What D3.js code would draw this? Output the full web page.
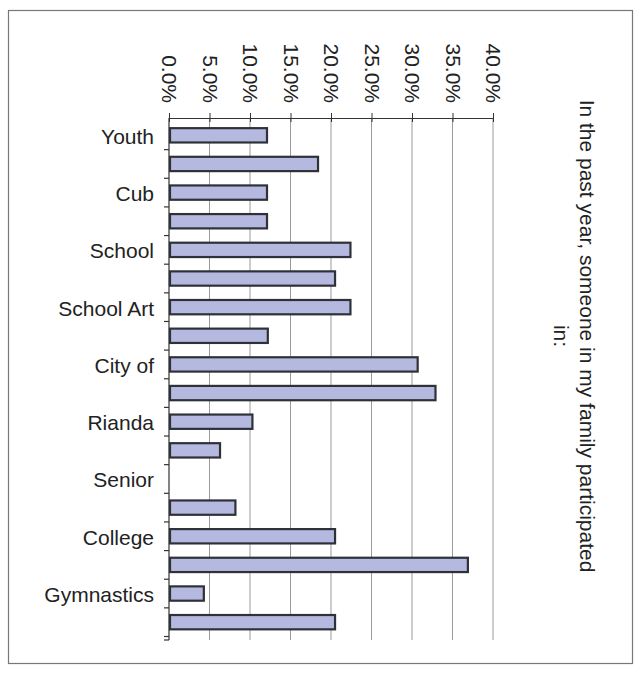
<!DOCTYPE html>
<html>
<head>
<meta charset="utf-8">
<script src="https://cdn.jsdelivr.net/npm/d3@7/dist/d3.min.js"></script>
<style>
  html, body { margin: 0; padding: 0; background: #ffffff; }
  svg { display: block; }
  text { font-family: "Liberation Sans", Arial, sans-serif; fill: #222; }
</style>
</head>
<body>
<svg id="chart" width="637" height="676"></svg>
<script>
// ---- data ----
const categories = ["Youth", "", "Cub", "", "School", "", "School Art", "", "City of", "",
                    "Rianda", "", "Senior", "", "College", "", "Gymnastics", ""];
const values = [12.1, 18.4, 12.1, 12.1, 22.4, 20.5, 22.4, 12.2, 30.7, 32.9,
                10.3, 6.3, 0, 8.2, 20.5, 36.9, 4.3, 20.5];
const tickValues = [0, 5, 10, 15, 20, 25, 30, 35, 40];
const titleLines = ["In the past year, someone in my family participated", "in:"];

// ---- layout ----
const svg = d3.select("#chart");
const pLeft = 169, pTop = 118, pRight = 493, pBottom = 640;
const bandTop = 121, bandBottom = 636.5;

svg.append("rect")
  .attr("x", 8.5).attr("y", 10.5).attr("width", 624).attr("height", 653)
  .attr("fill", "#fff").attr("stroke", "#777").attr("stroke-width", 1.2);

const x = d3.scaleLinear().domain([0, 40]).range([pLeft, pRight]);
const y = d3.scaleBand().domain(d3.range(categories.length)).range([bandTop, bandBottom]).paddingInner(0.5).paddingOuter(0.25);
const yBounds = d3.scaleBand().domain(d3.range(categories.length)).range([bandTop, bandBottom]);

// gridlines
svg.append("g").selectAll("line").data(tickValues.slice(1)).join("line")
  .attr("x1", d => x(d)).attr("x2", d => x(d))
  .attr("y1", pTop).attr("y2", pBottom)
  .attr("stroke", "#9a9a9a").attr("stroke-width", 1);

// top axis
const xAxis = d3.axisTop(x).tickValues(tickValues).tickSize(5).tickSizeOuter(0)
  .tickFormat(d => d3.format(".1f")(d) + "%");
const gx = svg.append("g").attr("transform", `translate(0,${pTop})`).call(xAxis);
gx.select(".domain").attr("stroke", "#333").attr("stroke-width", 1.2);
gx.selectAll(".tick line").attr("stroke", "#333").attr("y2", -5).attr("y1", 4);
gx.selectAll(".tick text")
  .attr("font-size", 21).attr("fill", "#222")
  .attr("text-anchor", "end")
  .attr("transform", "translate(0,-15) rotate(90)")
  .attr("x", 0).attr("y", 0).attr("dy", "0.35em");

// bars
svg.append("g").selectAll("rect").data(values).join("rect")
  .attr("x", x(0) + 1)
  .attr("y", (d, i) => y(i))
  .attr("width", d => Math.max(0, x(d) - x(0) - 1))
  .attr("height", y.bandwidth())
  .attr("fill", d => d > 0 ? "#b5b8df" : "none")
  .attr("stroke", d => d > 0 ? "#2e3238" : "none")
  .attr("stroke-width", 2.2);

// left axis
const gy = svg.append("g").attr("transform", `translate(${pLeft},0)`);
gy.append("line").attr("x1", 0).attr("x2", 0).attr("y1", pTop).attr("y2", pBottom)
  .attr("stroke", "#333").attr("stroke-width", 1.2);
gy.selectAll("line.tk").data(d3.range(1, categories.length + 1)).join("line").attr("class", "tk")
  .attr("x1", -5).attr("x2", 0)
  .attr("y1", i => bandTop + i * yBounds.step()).attr("y2", i => bandTop + i * yBounds.step())
  .attr("stroke", "#333").attr("stroke-width", 1.2);
gy.append("line").attr("x1", -5).attr("x2", 0).attr("y1", pBottom).attr("y2", pBottom)
  .attr("stroke", "#333").attr("stroke-width", 1.2);
gy.selectAll("text").data(categories).join("text")
  .attr("x", -15)
  .attr("y", (d, i) => yBounds(i) + yBounds.bandwidth() / 2 + 1)
  .attr("dy", "0.35em")
  .attr("text-anchor", "end")
  .attr("font-size", 21)
  .text(d => d);

// title (rotated)
titleLines.forEach((t, i) => {
  svg.append("text")
    .attr("transform", `translate(${580 - i * 26},336) rotate(90)`)
    .attr("text-anchor", "middle")
    .attr("font-size", 21)
    .text(t);
});
</script>
</body>
</html>
